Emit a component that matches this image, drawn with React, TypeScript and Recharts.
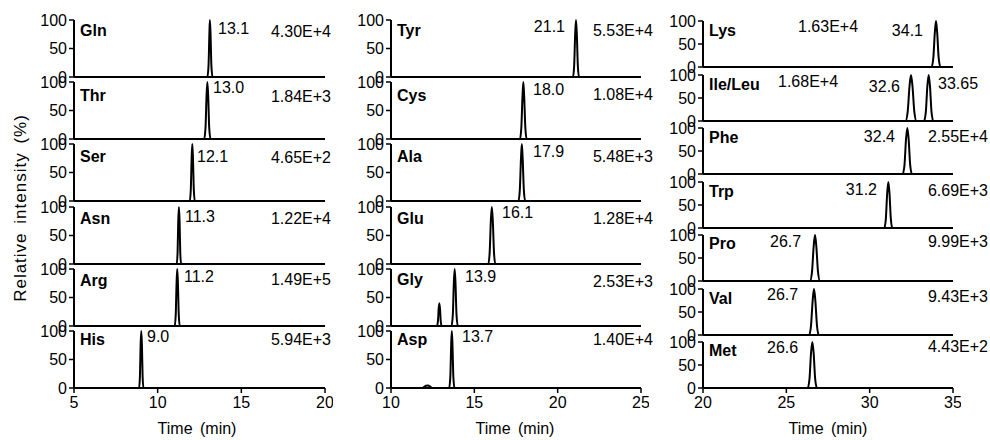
import React from 'react';
import { LineChart, Line, XAxis, YAxis } from 'recharts';

type Pt = [number, number];

// chromatogram traces, [time (min), relative intensity (%)]
// column 1
const gln: Pt[] = [[12.7, 0], [12.97, 0], [13.04, 20], [13.09, 75], [13.12, 100], [13.16, 75], [13.21, 20], [13.28, 0], [13.5, 0]];
const thr: Pt[] = [[12.6, 0], [12.78, 0], [12.86, 20], [12.92, 75], [12.97, 100], [13.02, 75], [13.08, 20], [13.16, 0], [13.4, 0]];
const ser: Pt[] = [[11.8, 0], [11.92, 0], [11.98, 20], [12.03, 75], [12.07, 100], [12.11, 75], [12.16, 20], [12.22, 0], [12.4, 0]];
const asn: Pt[] = [[11.0, 0], [11.14, 0], [11.19, 20], [11.23, 75], [11.27, 100], [11.31, 75], [11.35, 20], [11.4, 0], [11.6, 0]];
const arg: Pt[] = [[9.55, 0], [11.02, 0], [11.08, 20], [11.13, 75], [11.17, 100], [11.21, 75], [11.26, 20], [11.32, 0], [11.95, 0]];
const his: Pt[] = [[8.7, 0], [8.89, 0], [8.94, 20], [8.98, 75], [9.02, 100], [9.06, 75], [9.1, 20], [9.15, 0], [9.4, 0]];
// column 2
const tyr: Pt[] = [[20.8, 0], [20.92, 0], [20.99, 20], [21.05, 75], [21.1, 100], [21.15, 75], [21.21, 20], [21.28, 0], [21.5, 0]];
const cys: Pt[] = [[17.5, 0], [17.74, 0], [17.82, 20], [17.89, 75], [17.94, 100], [17.99, 75], [18.06, 20], [18.14, 0], [18.4, 0]];
const ala: Pt[] = [[14.45, 0], [17.65, 0], [17.73, 20], [17.8, 75], [17.85, 100], [17.9, 75], [17.97, 20], [18.05, 0], [19.45, 0]];
const glu: Pt[] = [[15.6, 0], [15.84, 0], [15.92, 20], [15.99, 75], [16.05, 100], [16.11, 75], [16.18, 20], [16.26, 0], [16.5, 0]];
const gly: Pt[] = [[12.05, 0], [12.76, 0], [12.82, 10], [12.86, 30], [12.9, 40], [12.94, 30], [12.98, 10], [13.04, 0], [13.63, 0], [13.71, 20], [13.77, 75], [13.82, 100], [13.87, 75], [13.93, 20], [14.01, 0], [14.45, 0]];
const asp: Pt[] = [[11.9, 0], [12.0, 2], [12.1, 4], [12.22, 4.5], [12.35, 2.5], [12.45, 0], [13.49, 0], [13.56, 20], [13.61, 75], [13.65, 100], [13.69, 75], [13.74, 20], [13.81, 0], [14.0, 0]];
// column 3
const lys: Pt[] = [[27.5, 0], [33.71, 0], [33.82, 20], [33.91, 75], [33.98, 100], [34.05, 75], [34.14, 20], [34.25, 0], [34.8, 0]];
const ileLeu: Pt[] = [[31.9, 0], [32.15, 0], [32.28, 20], [32.39, 75], [32.48, 100], [32.57, 75], [32.68, 20], [32.81, 0], [33.26, 0], [33.37, 20], [33.46, 75], [33.54, 100], [33.62, 75], [33.71, 20], [33.82, 0], [34.1, 0]];
const phe: Pt[] = [[31.8, 0], [31.98, 0], [32.09, 20], [32.18, 75], [32.26, 100], [32.34, 75], [32.43, 20], [32.54, 0], [32.8, 0]];
const trp: Pt[] = [[30.7, 0], [30.88, 0], [30.97, 20], [31.05, 75], [31.12, 100], [31.19, 75], [31.27, 20], [31.36, 0], [31.6, 0]];
const pro: Pt[] = [[22.6, 0], [26.42, 0], [26.54, 20], [26.64, 75], [26.72, 100], [26.8, 75], [26.9, 20], [27.02, 0], [27.45, 0]];
const val: Pt[] = [[22.6, 0], [26.37, 0], [26.48, 20], [26.58, 75], [26.66, 100], [26.74, 75], [26.84, 20], [26.95, 0], [27.4, 0]];
const met: Pt[] = [[26.1, 0], [26.28, 0], [26.39, 20], [26.48, 75], [26.56, 100], [26.64, 75], [26.73, 20], [26.84, 0], [27.1, 0]];

const col1Names = ['Gln', 'Thr', 'Ser', 'Asn', 'Arg', 'His'];
const col2Names = ['Tyr', 'Cys', 'Ala', 'Glu', 'Gly', 'Asp'];
const col3Names = ['Lys', 'Ile/Leu', 'Phe', 'Trp', 'Pro', 'Val', 'Met'];

const col1Amounts = ['4.30E+4', '1.84E+3', '4.65E+2', '1.22E+4', '1.49E+5', '5.94E+3'];
const col2Amounts = ['5.53E+4', '1.08E+4', '5.48E+3', '1.28E+4', '2.53E+3', '1.40E+4'];
const col3Amounts = ['1.63E+4', '1.68E+4', '2.55E+4', '6.69E+3', '9.99E+3', '9.43E+3', '4.43E+2'];

const col1Times = [['13.1'], ['13.0'], ['12.1'], ['11.3'], ['11.2'], ['9.0']];
const col2Times = [['21.1'], ['18.0'], ['17.9'], ['16.1'], ['13.9'], ['13.7']];
const col3Times = [['34.1'], ['32.6', '33.65'], ['32.4'], ['31.2'], ['26.7'], ['26.7'], ['26.6']];

const col1Ticks = [5, 10, 15, 20];
const col2Ticks = [10, 15, 20, 25];
const col3Ticks = [20, 25, 30, 35];
const yTicks = [0, 50, 100];

// layout (page pixels)
type Pos = [number, number, 'start' | 'end'];
const columns = [
  {
    left: 74, width: 251, base0: 77, step: 62.2, h: 57, ticks: col1Ticks, xLabel: 197,
    names: col1Names, amounts: col1Amounts, times: col1Times,
    traces: [gln, thr, ser, asn, arg, his],
    nameX: 80, nameY: [31, 96, 157, 219, 281, 340],
    amountPos: [[331, 32, 'end'], [331, 97, 'end'], [331, 158, 'end'], [331, 219, 'end'], [331, 280, 'end'], [331, 340, 'end']] as Pos[],
    timePos: [[[218, 29, 'start']], [[213, 88, 'start']], [[197, 157, 'start']], [[185, 217, 'start']], [[184, 277, 'start']], [[147, 337, 'start']]] as Pos[][],
  },
  {
    left: 391, width: 250, base0: 77, step: 62.2, h: 57, ticks: col2Ticks, xLabel: 515,
    names: col2Names, amounts: col2Amounts, times: col2Times,
    traces: [tyr, cys, ala, glu, gly, asp],
    nameX: 397, nameY: [31, 96, 157, 219, 280, 340],
    amountPos: [[653, 31, 'end'], [653, 95, 'end'], [653, 157, 'end'], [653, 219, 'end'], [653, 282, 'end'], [653, 340, 'end']] as Pos[],
    timePos: [[[565, 27, 'end']], [[533, 90, 'start']], [[533, 152, 'start']], [[502, 213, 'start']], [[465, 277, 'start']], [[462, 337, 'start']]] as Pos[][],
  },
  {
    left: 703, width: 250, base0: 67, step: 53.5, h: 46, ticks: col3Ticks, xLabel: 828,
    names: col3Names, amounts: col3Amounts, times: col3Times,
    traces: [lys, ileLeu, phe, trp, pro, val, met],
    nameX: 709, nameY: [31, 85, 138, 192, 244, 299, 351],
    amountPos: [[798, 27, 'start'], [778, 82, 'start'], [988, 137, 'end'], [988, 191, 'end'], [988, 242, 'end'], [988, 297, 'end'], [988, 347, 'end']] as Pos[],
    timePos: [[[923, 31, 'end']], [[900, 87, 'end'], [938, 84, 'start']], [[895, 137, 'end']], [[877, 190, 'end']], [[770, 242, 'start']], [[767, 295, 'start']], [[767, 348, 'start']]] as Pos[][],
  },
];

const FONT = '"Liberation Sans", Arial, sans-serif';
const FS = 16;
const YW = 45;
const MT = 10;
const MR = 8;

const Txt = ({ pos, bold, children }: { pos: Pos; bold?: boolean; children: React.ReactNode }) => {
  const [x, y, anchor] = pos;
  return (
    <div
      style={{
        position: 'absolute',
        left: anchor === 'start' ? x : undefined,
        right: anchor === 'end' ? 990 - x : undefined,
        top: y - FS / 2,
        fontSize: FS,
        lineHeight: `${FS}px`,
        fontWeight: bold ? 700 : 400,
        whiteSpace: 'nowrap',
      }}
    >
      {children}
    </div>
  );
};

const Panel = ({ col, i }: { col: (typeof columns)[number]; i: number }) => {
  const last = i === col.names.length - 1;
  const base = col.base0 + col.step * i;
  // inner panels keep a small strip below the axis so the "0" label is not cut
  const xh = last ? 28 : 10;
  const data = col.traces[i].map(([t, v]) => ({ t, v }));
  const tickStyle = { fill: '#000', fontSize: FS, fontFamily: FONT };
  return (
    <div style={{ position: 'absolute', left: col.left - YW, top: base - col.h - MT }}>
      <LineChart
        width={YW + col.width + MR}
        height={MT + col.h + xh}
        data={data}
        margin={{ top: MT, right: MR, left: 0, bottom: 0 }}
      >
        <XAxis
          dataKey="t"
          type="number"
          domain={[col.ticks[0], col.ticks[col.ticks.length - 1]]}
          ticks={col.ticks}
          interval={0}
          allowDataOverflow
          height={xh}
          tick={last ? tickStyle : false}
          tickLine={last ? { stroke: '#000', strokeWidth: 1.5 } : false}
          tickSize={5}
          tickMargin={4}
          axisLine={{ stroke: '#000', strokeWidth: 2 }}
        />
        <YAxis
          type="number"
          domain={[0, 100]}
          ticks={yTicks}
          interval={0}
          width={YW}
          tick={tickStyle}
          tickLine={{ stroke: '#000', strokeWidth: 1.5 }}
          tickSize={5}
          tickMargin={2}
          axisLine={{ stroke: '#000', strokeWidth: 2 }}
        />
        <Line
          dataKey="v"
          type="monotone"
          stroke="#000"
          strokeWidth={2}
          dot={false}
          isAnimationActive={false}
        />
      </LineChart>
    </div>
  );
};

export default function App() {
  return (
    <div
      style={{
        position: 'absolute',
        left: 0,
        top: 0,
        width: 990,
        height: 440,
        background: '#fff',
        fontFamily: FONT,
        color: '#000',
        overflow: 'hidden',
      }}
    >
      {columns.map((col, c) => (
        <React.Fragment key={c}>
          {col.names.map((_, i) => (
            <Panel key={i} col={col} i={i} />
          ))}
          {col.names.map((name, i) => (
            <Txt key={`n${i}`} pos={[col.nameX, col.nameY[i], 'start']} bold>
              {name}
            </Txt>
          ))}
          {col.amounts.map((a, i) => (
            <Txt key={`a${i}`} pos={col.amountPos[i]}>
              {a}
            </Txt>
          ))}
          {col.times.map((ts, i) =>
            ts.map((t, k) => (
              <Txt key={`t${i}-${k}`} pos={col.timePos[i][k]}>
                {t}
              </Txt>
            ))
          )}
          <div
            style={{
              position: 'absolute',
              left: col.xLabel - 60,
              width: 120,
              top: 421,
              textAlign: 'center',
              fontSize: FS,
              lineHeight: `${FS}px`,
              wordSpacing: 3,
            }}
          >
            Time (min)
          </div>
        </React.Fragment>
      ))}
      <div
        style={{
          position: 'absolute',
          left: 21 - 110,
          top: 208 - 9,
          width: 220,
          textAlign: 'center',
          fontSize: 17,
          lineHeight: '18px',
          letterSpacing: 1,
          wordSpacing: 3,
          transform: 'rotate(-90deg)',
        }}
      >
        Relative intensity (%)
      </div>
    </div>
  );
}
